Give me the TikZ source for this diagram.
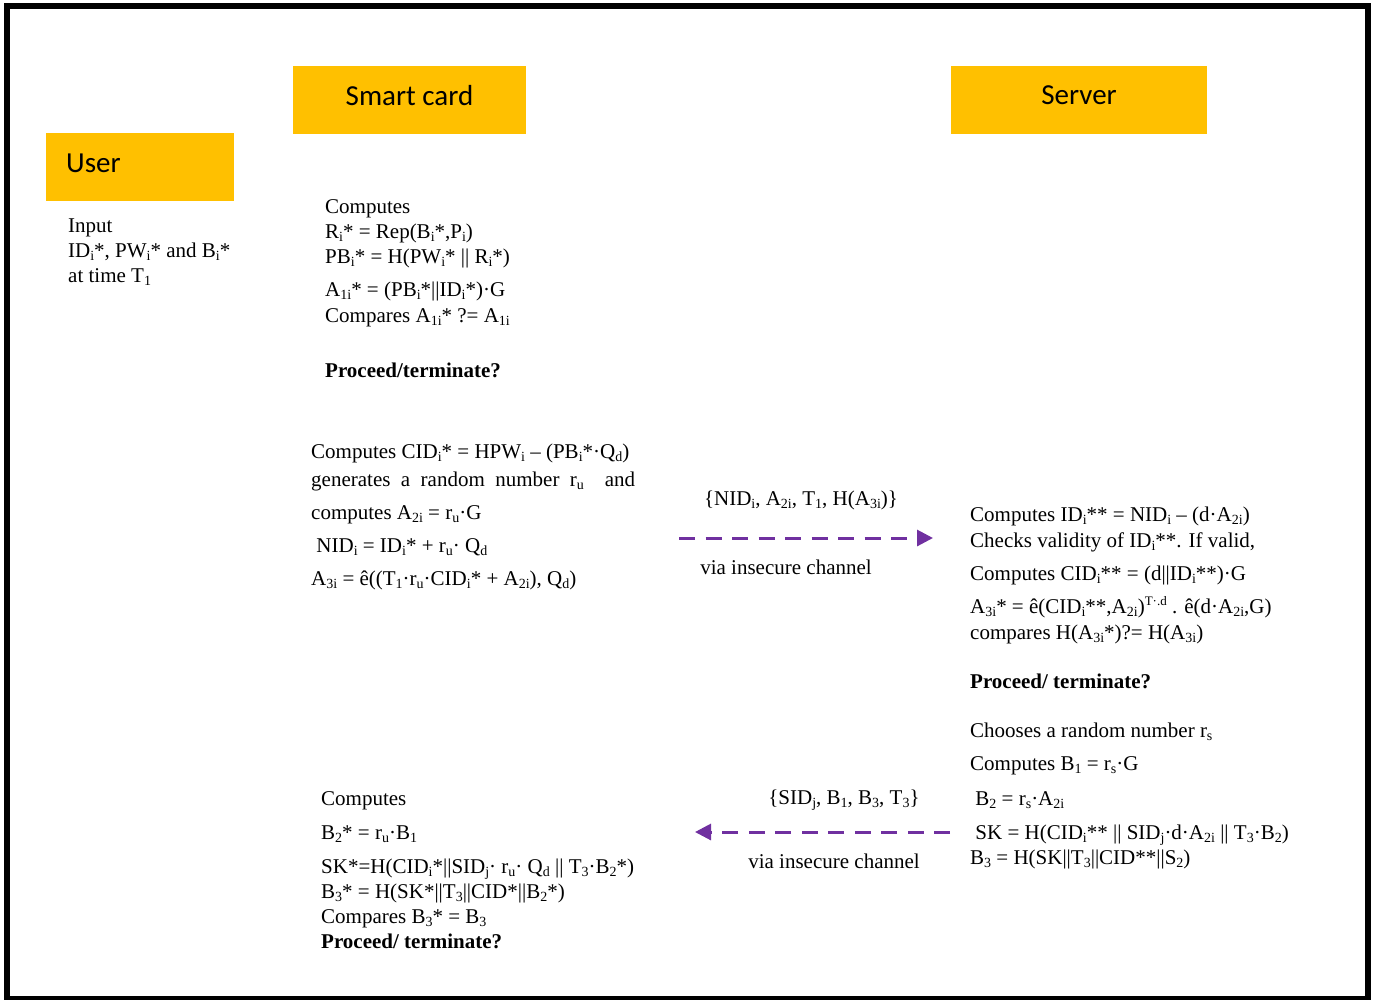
\documentclass[tikz,border=0pt]{standalone}
\usepackage{fontspec}
\setmainfont{Liberation Serif}
\newfontfamily\hdfont{Carlito}
\usetikzlibrary{arrows.meta}
\definecolor{gold}{HTML}{FFC000}
\definecolor{chan}{HTML}{7030A0}
\newcommand{\sbs}[1]{\raisebox{-3pt}{\fontsize{14}{14}\selectfont #1}}
\newcommand{\sps}[1]{\raisebox{8pt}{\fontsize{13}{13}\selectfont #1}}

\begin{document}
\begin{tikzpicture}[
  x=1pt, y=-1pt,
  hdr/.style={fill=gold, font=\hdfont\fontsize{29}{34}\selectfont, text depth=9pt,
    minimum height=68pt, inner sep=0pt},
  txt/.style={align=left, inner sep=0pt, anchor=base west,
    font=\fontsize{21}{25}\selectfont},
  lbl/.style={inner sep=0pt, anchor=base, font=\fontsize{21}{25}\selectfont},
  msg/.style={chan, line width=3pt, dash pattern=on 16pt off 10.5pt,
    -{Triangle[length=16pt, width=16pt]}}
]
\useasboundingbox (0,0) rectangle (1375,999);
\draw[line width=6pt] (7,6) rectangle (1368,999);

\node[hdr, anchor=north west, minimum width=188pt, text width=148pt, inner xsep=20pt,
  align=left] (user) at (46,133) {User};
\node[hdr, minimum width=233pt] (card) at (409.5,100) {Smart card};
\node[hdr, minimum width=256pt] (server) at (1079,100) {Server};

% anchors sit on the last line of each block
\node[txt] (usrin) at (68,282)
  {Input\\ ID\sbs{i}*, PW\sbs{i}* and B\sbs{i}*\\ at time T\sbs{1}};

\node[txt] (cardchk) at (325,377)
  {Computes\\ R\sbs{i}* = Rep(B\sbs{i}*,P\sbs{i})\\ PB\sbs{i}* = H(PW\sbs{i}* || R\sbs{i}*)\\[8pt]
   A\sbs{1i}* = (PB\sbs{i}*||ID\sbs{i}*)·G\\[1pt] Compares A\sbs{1i}* ?= A\sbs{1i}\\[30pt]
   \textbf{Proceed/terminate?}};

\node[txt] (cardreq) at (311,585)
  {Computes CID\sbs{i}* = HPW\sbs{i} – (PB\sbs{i}*·Q\sbs{d})\\[3pt]
   \makebox[324pt][s]{generates a random number r\sbs{u}\ \ and}\\[8pt]
   computes A\sbs{2i} = r\sbs{u}·G\\[8pt]
   \ NID\sbs{i} = ID\sbs{i}* + r\sbs{u}· Q\sbs{d}\\[8pt]
   A\sbs{3i} = ê((T\sbs{1}·r\sbs{u}·CID\sbs{i}* + A\sbs{2i}), Q\sbs{d})};

\node[txt] (srvchk) at (970,688)
  {Computes ID\sbs{i}** = NID\sbs{i} – (d·A\sbs{2i})\\[1pt]
   Checks validity of ID\sbs{i}**. If valid,\\[8pt]
   Computes CID\sbs{i}** = (d||ID\sbs{i}**)·G\\[8pt]
   A\sbs{3i}* = ê(CID\sbs{i}**,A\sbs{2i})\sps{T·.d} . ê(d·A\sbs{2i},G)\\[1pt]
   compares H(A\sbs{3i}*)?= H(A\sbs{3i})\\[24pt]
   \textbf{Proceed/ terminate?}};

\node[txt] (srvkey) at (970,864)
  {Chooses a random number r\sbs{s}\\[8pt]
   Computes B\sbs{1} = r\sbs{s}·G\\[10pt]
   \ B\sbs{2} = r\sbs{s}·A\sbs{2i}\\[9pt]
   \ SK = H(CID\sbs{i}** || SID\sbs{j}·d·A\sbs{2i} || T\sbs{3}·B\sbs{2})\\[0pt]
   B\sbs{3} = H(SK||T\sbs{3}||CID**||S\sbs{2})};

\node[txt] (cardkey) at (321,948)
  {Computes\\[9pt]
   B\sbs{2}* = r\sbs{u}·B\sbs{1}\\[9pt]
   SK*=H(CID\sbs{i}*||SID\sbs{j}· r\sbs{u}· Q\sbs{d} || T\sbs{3}·B\sbs{2}*)\\
   B\sbs{3}* = H(SK*||T\sbs{3}||CID*||B\sbs{2}*)\\
   Compares B\sbs{3}* = B\sbs{3}\\
   \textbf{Proceed/ terminate?}};

\coordinate (m1s) at (679,538);
\coordinate (m1e) at (933,538);
\coordinate (m2s) at (950,832);
\coordinate (m2e) at (695,832);

\node[lbl] (msg1) at (801,505) {\{NID\sbs{i}, A\sbs{2i}, T\sbs{1}, H(A\sbs{3i})\}};
\node[lbl] (via1) at (786,574) {via insecure channel};
\node[lbl] (msg2) at (844,804) {\{SID\sbs{j}, B\sbs{1}, B\sbs{3}, T\sbs{3}\}};
\node[lbl] (via2) at (834,868) {via insecure channel};

\draw[msg] (m1s) -- (m1e);
\draw[msg] (m2s) -- (m2e);
\end{tikzpicture}
\end{document}
